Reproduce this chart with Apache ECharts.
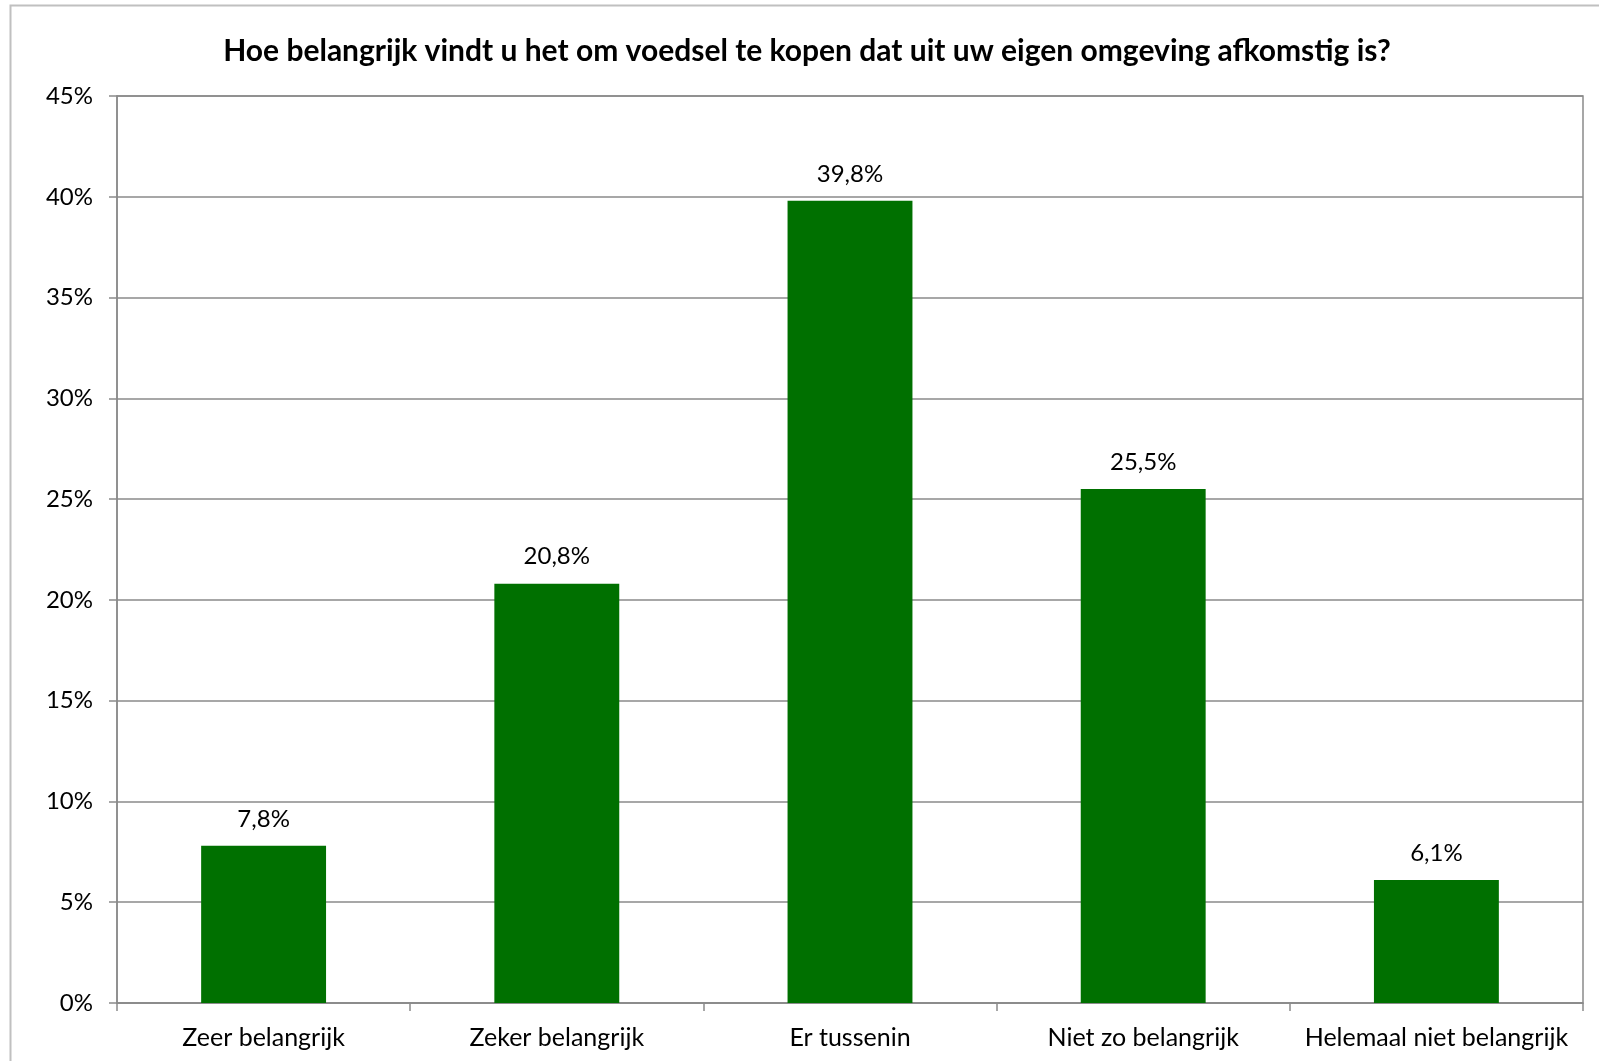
<!DOCTYPE html>
<html>
<head>
<meta charset="utf-8">
<style>
html,body{margin:0;padding:0;background:#fff;}
#chart{width:1599px;height:1061px;}
</style>
<script src="https://cdn.jsdelivr.net/npm/echarts@6/dist/echarts.min.js"></script>
</head>
<body>
<div id="chart"></div>
<script>
const titleText = 'Hoe belangrijk vindt u het om voedsel te kopen dat uit uw eigen omgeving afkomstig is?';
const categories = ['Zeer belangrijk', 'Zeker belangrijk', 'Er tussenin', 'Niet zo belangrijk', 'Helemaal niet belangrijk'];
const values = [7.8, 20.8, 39.8, 25.5, 6.1];
const yTicks = [0, 5, 10, 15, 20, 25, 30, 35, 40, 45];

const FONT = 'Lato, "Open Sans", sans-serif';
const chart = echarts.init(document.getElementById('chart'), null, {renderer: 'canvas'});
chart.setOption({
  backgroundColor: '#fff',
  animation: false,
  title: {
    text: titleText,
    left: 802, top: 31, textAlign: 'center',
    textStyle: {fontFamily: FONT, fontWeight: 'bold', fontSize: 30, color: '#000'}
  },
  graphic: [{
    type: 'polyline',
    shape: {points: [[10.5, 1070], [10.5, 5.5], [1610, 5.5]]},
    style: {stroke: '#c0c0c0', lineWidth: 2, fill: null}
  }],
  grid: {left: 117, right: 16, top: 96, bottom: 58, show: true, borderColor: '#8a8a8a', borderWidth: 1.5, containLabel: false},
  xAxis: {
    type: 'category',
    data: categories,
    axisLine: {lineStyle: {color: '#8a8a8a', width: 1.5}},
    axisTick: {show: true, length: 8, lineStyle: {color: '#8a8a8a', width: 1.5}},
    axisLabel: {fontFamily: FONT, fontSize: 25, color: '#000', margin: 22, interval: 0}
  },
  yAxis: {
    type: 'value',
    min: yTicks[0], max: yTicks[yTicks.length - 1], interval: 5,
    axisLine: {show: true, lineStyle: {color: '#8a8a8a', width: 1.5}},
    axisTick: {show: true, length: 8, lineStyle: {color: '#8a8a8a', width: 1.5}},
    splitLine: {lineStyle: {color: '#8a8a8a', width: 1.5}},
    axisLabel: {fontFamily: FONT, fontSize: 24, color: '#000', margin: 24, formatter: v => v + '%'}
  },
  series: [{
    type: 'bar',
    data: values,
    barWidth: '42.6%',
    itemStyle: {color: '#007000'},
    label: {
      show: true, position: 'top', distance: 15,
      fontFamily: FONT, fontSize: 24, color: '#000',
      formatter: p => p.value.toFixed(1).replace('.', ',') + '%'
    }
  }]
});
</script>
</body>
</html>
